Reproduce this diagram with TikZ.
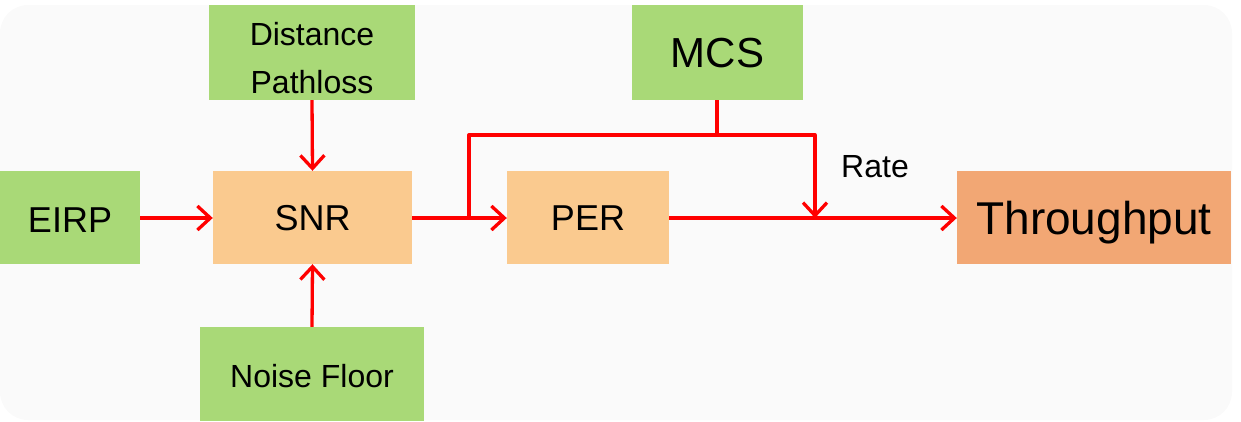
\documentclass[tikz,border=0pt]{standalone}
\usepackage{fontspec}
\setmainfont{Liberation Sans}
\usetikzlibrary{arrows.meta}
\definecolor{bggray}{HTML}{FAFAFA}
\definecolor{boxgreen}{HTML}{A9D977}
\definecolor{boxorange}{HTML}{FACA8F}
\definecolor{boxdark}{HTML}{F2A774}
\definecolor{arrred}{HTML}{FF0000}
\tikzset{
  box/.style={rectangle, inner sep=0pt, align=center, text=black, text depth=0pt},
  gbox/.style={box, fill=boxgreen},
  obox/.style={box, fill=boxorange},
  conn/.style={draw=arrred, line width=3.3pt, line join=round},
  arr/.style={conn, -{Straight Barb[length=13pt,width=24pt,line width=3.3pt]}},
}
\begin{document}
\begin{tikzpicture}[x=1pt,y=-1pt]
\useasboundingbox (0,0) rectangle (1241,421);
\fill[bggray, rounded corners=28pt] (0,5) rectangle (1232,420);
\node[gbox, minimum width=206pt, minimum height=95pt] (dist) at (312,52.5) {};
\node[align=center, inner sep=0pt, font=\fontsize{32}{48}\selectfont] (distlbl) at ([yshift=-6pt]dist.center) {Distance\\Pathloss};
\node[gbox, text height=30pt, minimum width=171pt, minimum height=95pt, font=\fontsize{42}{50}\selectfont] (mcs) at (717.5,52.5) {MCS};
\node[gbox, text height=25.8pt, minimum width=140pt, minimum height=93pt, font=\fontsize{36}{42}\selectfont] (eirp) at (70,217.5) {\raisebox{-2pt}{EIRP}};
\node[obox, text height=25.8pt, minimum width=199pt, minimum height=93pt, font=\fontsize{36}{42}\selectfont] (snr) at (312.5,217.5) {SNR};
\node[obox, text height=25.8pt, minimum width=162pt, minimum height=93pt, font=\fontsize{36}{42}\selectfont] (per) at (588,217.5) {PER};
\node[box, text height=33pt, fill=boxdark, minimum width=274pt, minimum height=93pt, font=\fontsize{46}{55}\selectfont] (thr) at (1094,217.5) {Throughput};
\node[gbox, text height=23pt, minimum width=224pt, minimum height=94pt, font=\fontsize{32}{38}\selectfont] (noise) at (312,374) {\raisebox{-2pt}{Noise Floor}};
\node[inner sep=0pt, font=\fontsize{32}{38}\selectfont, anchor=base] (rate) at (875,177) {Rate};
\coordinate (split) at (469,218);
\coordinate (mcsj) at (717,135);
\coordinate (ratej) at (815,218);
\draw[arr] (eirp.east |- 0,218) -- (snr.west |- 0,218);
\draw[arr] (dist.south) -- (snr.north);
\draw[arr] (noise.north) -- (snr.south);
\draw[arr] (snr.east |- 0,218) -- (per.west |- 0,218);
\draw[arr] (per.east |- 0,218) -- (thr.west |- 0,218);
\draw[arr] (split) |- (mcsj) -| (ratej);
\draw[conn] (mcs.south -| mcsj) -- (mcsj);
\end{tikzpicture}
\end{document}
